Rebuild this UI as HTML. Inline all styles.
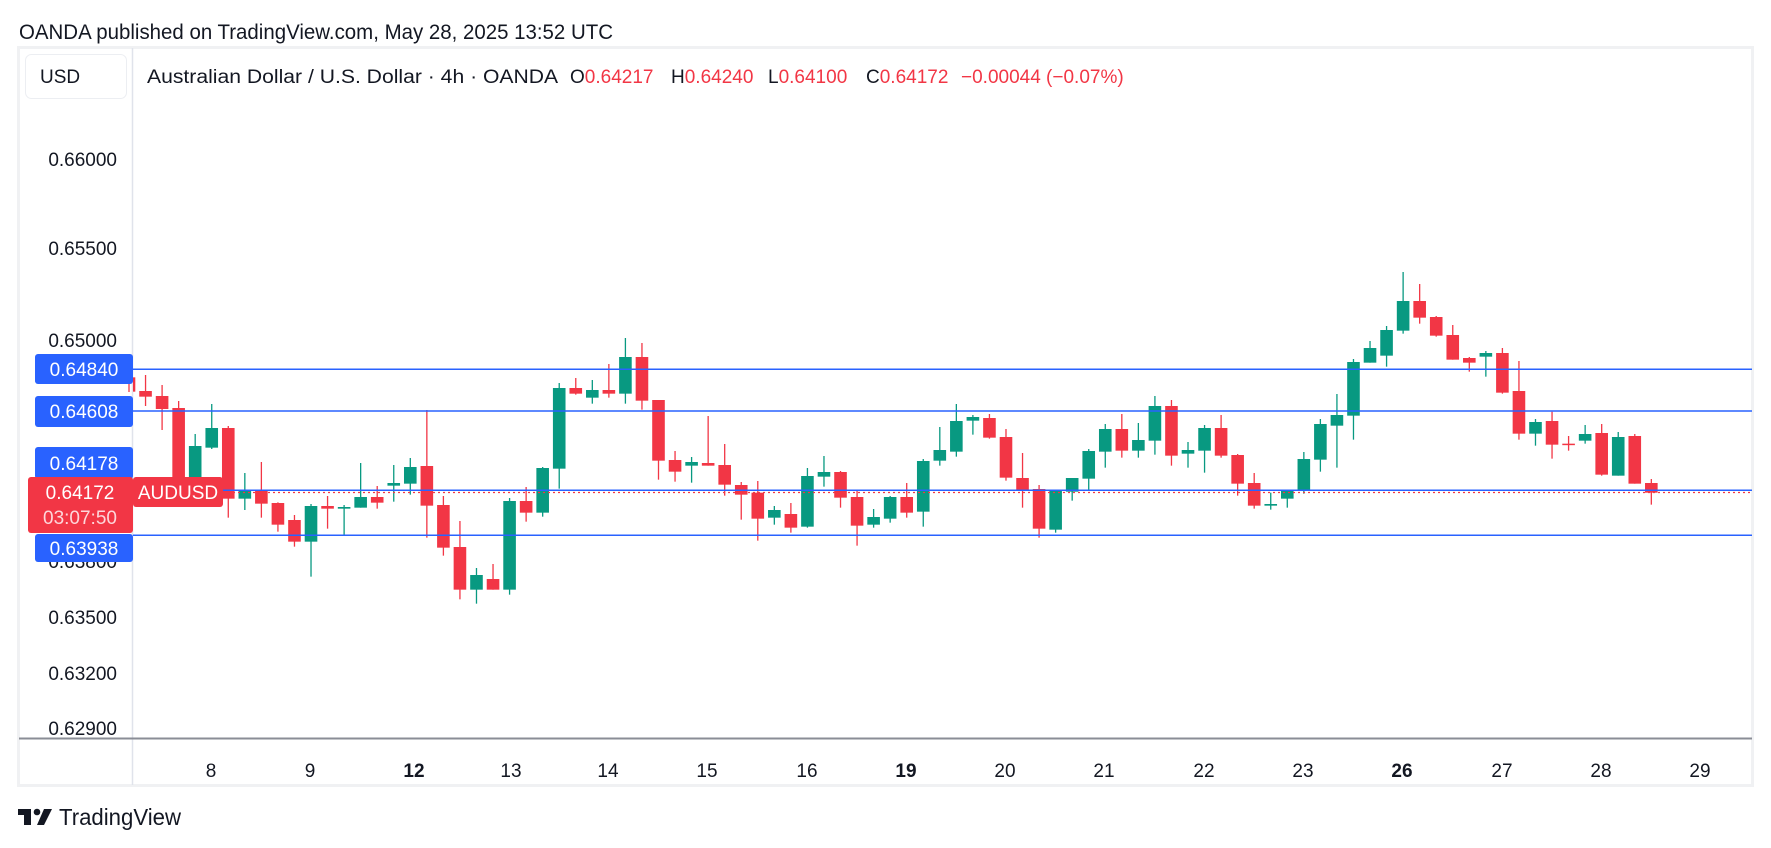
<!DOCTYPE html>
<html><head><meta charset="utf-8"><style>
html,body{margin:0;padding:0;background:#fff;}
svg{display:block;font-family:"Liberation Sans",sans-serif;}
</style></head><body>
<svg id="s" width="1771" height="848" viewBox="0 0 1771 848" xmlns="http://www.w3.org/2000/svg">
<rect x="0" y="0" width="1771" height="848" fill="#fff"/>
<text x="19" y="39" font-size="21" fill="#131722" textLength="594" lengthAdjust="spacingAndGlyphs">OANDA published on TradingView.com, May 28, 2025 13:52 UTC</text>
<rect x="18.5" y="47.5" width="1734" height="738" fill="#fff" stroke="#f0f1f3" stroke-width="3"/>
<line x1="132.5" y1="48" x2="132.5" y2="785" stroke="#e0e3eb" stroke-width="1.5"/>
<line x1="19" y1="738.5" x2="1752" y2="738.5" stroke="#8a8d96" stroke-width="2"/>
<rect x="25.5" y="54.5" width="101" height="44" rx="6" fill="#fff" stroke="#eceef2"/>
<text x="40" y="83" font-size="19" fill="#131722">USD</text>
<text y="83" font-size="19">
<tspan x="147" fill="#131722" textLength="410" lengthAdjust="spacingAndGlyphs">Australian Dollar / U.S. Dollar · 4h · OANDA</tspan>
<tspan x="570" fill="#131722">O</tspan><tspan fill="#f23645">0.64217</tspan>
<tspan x="671" fill="#131722">H</tspan><tspan fill="#f23645">0.64240</tspan>
<tspan x="768" fill="#131722">L</tspan><tspan fill="#f23645">0.64100</tspan>
<tspan x="866" fill="#131722">C</tspan><tspan fill="#f23645">0.64172</tspan>
<tspan x="961" fill="#f23645">−0.00044 (−0.07%)</tspan>
</text>
<g font-size="19" fill="#131722" text-anchor="end">
<text x="117" y="166">0.66000</text>
<text x="117" y="255">0.65500</text>
<text x="117" y="347">0.65000</text>
<text x="117" y="568">0.63800</text>
<text x="117" y="624">0.63500</text>
<text x="117" y="680">0.63200</text>
<text x="117" y="735">0.62900</text>
</g>
<g font-size="19" fill="#131722" text-anchor="middle">
<text x="211" y="777">8</text><text x="310" y="777">9</text><text x="414" y="777" font-weight="bold">12</text>
<text x="511" y="777">13</text><text x="608" y="777">14</text><text x="707" y="777">15</text>
<text x="807" y="777">16</text><text x="906" y="777" font-weight="bold">19</text><text x="1005" y="777">20</text>
<text x="1104" y="777">21</text><text x="1204" y="777">22</text><text x="1303" y="777">23</text>
<text x="1402" y="777" font-weight="bold">26</text><text x="1502" y="777">27</text><text x="1601" y="777">28</text>
<text x="1700" y="777">29</text>
</g>
<g id="c"></g>
<g stroke="#2962ff" stroke-width="1.5">
<line x1="133" y1="369.3" x2="1752" y2="369.3"/>
<line x1="133" y1="411" x2="1752" y2="411"/>
<line x1="133" y1="490.3" x2="1752" y2="490.3"/>
<line x1="133" y1="535.3" x2="1752" y2="535.3"/>
</g>
<line x1="133" y1="492.5" x2="1752" y2="492.5" stroke="#f23645" stroke-width="1.2" stroke-dasharray="2,3"/>
<g font-size="19" fill="#fff" text-anchor="middle">
<rect x="35" y="354" width="98" height="30" rx="3" fill="#2962ff"/><text x="84" y="376">0.64840</text>
<rect x="35" y="396" width="98" height="31" rx="3" fill="#2962ff"/><text x="84" y="418">0.64608</text>
<rect x="35" y="447" width="98" height="32" rx="3" fill="#2962ff"/><text x="84" y="470">0.64178</text>
<rect x="35" y="534" width="98" height="28" rx="3" fill="#2962ff"/><text x="84" y="555">0.63938</text>
<rect x="28" y="477" width="105" height="56" rx="3" fill="#f23645"/>
<text x="80" y="499">0.64172</text><text x="80" y="524" fill-opacity="0.8">03:07:50</text>
<rect x="133" y="477" width="90" height="30" rx="3" fill="#f23645"/><text x="178" y="499">AUDUSD</text>
</g>
<g fill="#131722">
<rect x="18" y="809" width="13" height="6"/><rect x="24" y="809" width="7" height="16"/>
<circle cx="37" cy="812" r="3.3"/><polygon points="44,809 52,809 44,825 37,825"/>
</g>
<text x="59" y="825" font-size="23" fill="#131722" textLength="122" lengthAdjust="spacingAndGlyphs">TradingView</text>
</svg>
<script>
var segs=[[330,[
[142,142,185,186,'r'],[135,183,200,228,'r'],[165,198,237,300,'r'],[213,234,465,480,'r'],[312,348,455,470,'g'],
[222,294,353,357,'g'],[288,294,506,563,'r'],[429,480,506,540,'g'],[396,480,521,563,'r'],[517,519,584,605,'r'],
[555,570,635,650,'r'],[522,528,635,740,'g'],[498,528,536,596,'r'],[525,531,536,615,'g'],[399,501,533,533,'g'],
[468,501,518,536,'r'],[405,459,467,515,'g'],[384,411,461,494,'g'],[240,408,527,623,'r'],[498,525,653,677,'r'],
[573,651,779,808,'r'],[714,735,779,821,'g'],[702,747,779,779,'r'],[504,513,779,794,'g'],[471,513,548,575,'r'],
[411,414,548,560,'g']]],
[320,[
[189,204,446,506,'g'],[174,204,221,224,'r'],[180,210,233,251,'g'],[132,210,221,233,'r'],[54,111,221,251,'g'],
[69,111,242,269,'r'],[240,240,422,479,'r'],[393,420,455,485,'r'],[411,426,437,488,'g'],[288,429,437,437,'r'],
[372,435,494,527,'r'],[486,495,524,599,'r'],[483,518,596,662,'r'],[558,570,593,614,'g'],[549,582,623,638,'r'],
[444,468,620,623,'g'],[408,456,470,500,'g'],[453,456,533,563,'r'],[510,531,617,677,'r'],[567,591,614,623,'g'],
[528,531,596,608,'g'],[489,531,578,593,'r'],[417,423,575,620,'g'],[321,390,422,437,'g'],[252,303,395,410,'g']]],
[370,[
[135,141,152,194,'g'],[132,144,203,206,'r'],[177,201,323,332,'r'],[249,324,359,413,'r'],[345,357,476,503,'r'],
[360,362,479,488,'g'],[324,324,365,392,'g'],[237,243,326,359,'g'],[162,177,245,293,'g'],[132,177,242,263,'r'],
[159,210,242,263,'g'],[78,108,212,254,'g'],[90,108,257,287,'r'],[216,240,251,293,'g'],[165,174,242,308,'g'],
[135,174,257,263,'r'],[252,255,341,377,'r'],[309,339,407,416,'r'],[368,402,407,419,'g'],[360,360,386,413,'g'],
[246,267,360,371,'g'],[147,162,269,305,'g'],[72,135,167,293,'g']]],
[260,[
[297,306,467,539,'g'],[243,264,308,308,'g'],[198,210,287,320,'g'],[36,123,212,221,'g'],[72,123,173,191,'r'],
[168,171,227,230,'r'],[195,225,299,299,'r'],[291,294,308,335,'r'],[273,279,290,350,'g'],[264,279,398,401,'r'],
[303,393,521,539,'r'],[477,486,521,557,'g'],[455,483,554,596,'r'],[528,551,554,572,'r'],[495,522,542,551,'g'],
[492,519,644,647,'r'],[516,531,647,647,'g'],[522,528,671,671,'r'],[657,669,698,734,'r']]]];
var ns='http://www.w3.org/2000/svg',g=document.getElementById('c'),i=0,out='';
segs.forEach(function(s){var o=s[0];s[1].forEach(function(c){
 var x=129+16.547*i;i++;var col=c[4]=='r'?'#f23645':'#089981';
 var hi=o+c[0]/3,t=o+c[1]/3,b=o+c[2]/3,lo=o+c[3]/3;if(b-t<1.5)b=t+1.5;
 var L=Math.max(x-6.3,133),R=x+6.3;
 out+='<line x1="'+x+'" y1="'+hi+'" x2="'+x+'" y2="'+lo+'" stroke="'+col+'" stroke-width="1.3"/>';
 if(R>L)out+='<rect x="'+L+'" y="'+t+'" width="'+(R-L)+'" height="'+(b-t)+'" fill="'+col+'"/>';
});});
g.innerHTML=out;
</script>
</body></html>
